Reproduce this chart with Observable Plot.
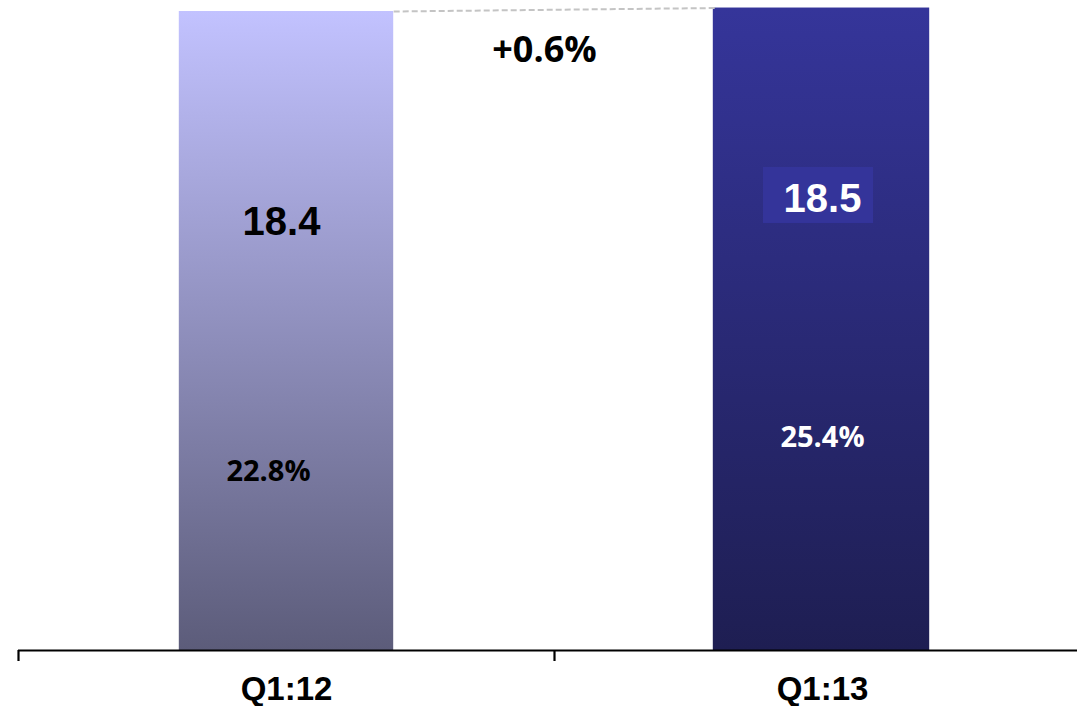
<!DOCTYPE html>
<html>
<head>
<meta charset="utf-8">
<script src="https://cdn.jsdelivr.net/npm/d3@7"></script>
<script src="https://cdn.jsdelivr.net/npm/@observablehq/plot@0.6"></script>
<style>
  body { margin: 0; background: #fff; }
  #chart svg { display: block; }
</style>
</head>
<body>
<div id="chart"></div>
<script>
// Quarterly totals with their share labels
const quarters = ["Q1:12", "Q1:13"];
const totals = [18.4, 18.5];
const shares = ["22.8%", "25.4%"];
const changeLabel = "+0.6%";

const rows = quarters.map((q, i) => ({ q, i, total: totals[i], share: shares[i] }));

// layout / style constants
const half = 0.2;                       // half bar width in x units
const valueLabelAt = [0.67, 0.702];     // fraction of bar height for the total label
const shareLabelAt = [0.28, 0.331];     // fraction of bar height for the share label
const valueShift = [-5, 0];             // horizontal nudge of the total labels (px)
const shareShift = [-18, 0];            // horizontal nudge of the share labels (px)
const gradients = [["#c2c2ff", "#5c5c7a"], ["#35359a", "#1e1e52"]];
const valueColor = ["#000", "#fff"];
const arial = "'Liberation Sans', Arial, sans-serif";
const sans = "'Open Sans', 'Liberation Sans', sans-serif";

// vertical gradient definitions for the two bars
const defs = () => {
  const d = d3.create("svg:defs");
  gradients.forEach(([top, bottom], i) => {
    const g = d.append("linearGradient")
      .attr("id", `bar-grad-${i}`)
      .attr("x1", 0).attr("y1", 0).attr("x2", 0).attr("y2", 1);
    g.append("stop").attr("offset", "0%").attr("stop-color", top);
    g.append("stop").attr("offset", "100%").attr("stop-color", bottom);
  });
  return d.node();
};

// highlight box behind the latest total
const labelBox = (index, scales) => {
  const d = rows[1];
  const cx = scales.x(d.i), cy = scales.y(d.total * valueLabelAt[d.i]);
  return d3.create("svg:rect")
    .attr("x", cx - 59).attr("y", cy - 32)
    .attr("width", 110).attr("height", 56)
    .attr("fill", "#34349a")
    .node();
};

const plot = Plot.plot({
  width: 1077,
  height: 706,
  marginTop: 0,
  marginBottom: 56,
  marginLeft: 18,
  marginRight: 0,
  x: { type: "linear", domain: [-0.5, 1.5], range: [18, 1090], axis: null, label: null },
  y: { domain: [0, 18.4 * 650 / 639], axis: null },
  marks: [
    defs,
    ...rows.map(d => Plot.rectY([d], {
      x1: r => r.i - half,
      x2: r => r.i + half,
      y: "total",
      insetLeft: d.i ? -2 : 0,
      fill: `url(#bar-grad-${d.i})`
    })),
    Plot.link([{ a: rows[0], b: rows[1] }], {
      x1: p => p.a.i + half, y1: p => p.a.total,
      x2: p => p.b.i - half, y2: p => p.b.total,
      stroke: "#c4c4c4", strokeWidth: 2, strokeDasharray: "6,3"
    }),
    labelBox,
    ...rows.map(d => Plot.text([d], {
      x: "i",
      y: r => r.total * valueLabelAt[r.i],
      text: r => r.total.toFixed(1),
      dx: valueShift[d.i],
      fill: valueColor[d.i],
      fontSize: 40, fontWeight: "bold", fontFamily: arial,
      lineAnchor: "middle"
    })),
    ...rows.map(d => Plot.text([d], {
      x: "i",
      y: r => r.total * shareLabelAt[r.i],
      text: "share",
      dx: shareShift[d.i],
      fill: valueColor[d.i],
      fontSize: 29, fontWeight: "bold", fontFamily: sans,
      lineAnchor: "middle"
    })),
    Plot.text([changeLabel], {
      x: (rows[0].i + rows[1].i) / 2,
      y: 17.28,
      text: t => t,
      dx: -10,
      fill: "#000",
      fontSize: 36, fontWeight: "bold", fontFamily: sans,
      lineAnchor: "middle"
    }),
    Plot.ruleY([0], { stroke: "#000", strokeWidth: 2.2 }),
    Plot.axisX({
      ticks: rows.map(d => d.i - 0.5),
      tickSize: 11,
      tickFormat: () => "",
      label: null,
      stroke: "#000",
      strokeWidth: 2.2
    }),
    Plot.axisX({
      ticks: rows.map(d => d.i),
      tickSize: 0,
      tickPadding: 26,
      tickFormat: i => quarters[i],
      label: null,
      fill: "#000",
      fontSize: 33, fontWeight: "bold", fontFamily: arial
    })
  ]
});

document.getElementById("chart").append(plot);
</script>
</body>
</html>
